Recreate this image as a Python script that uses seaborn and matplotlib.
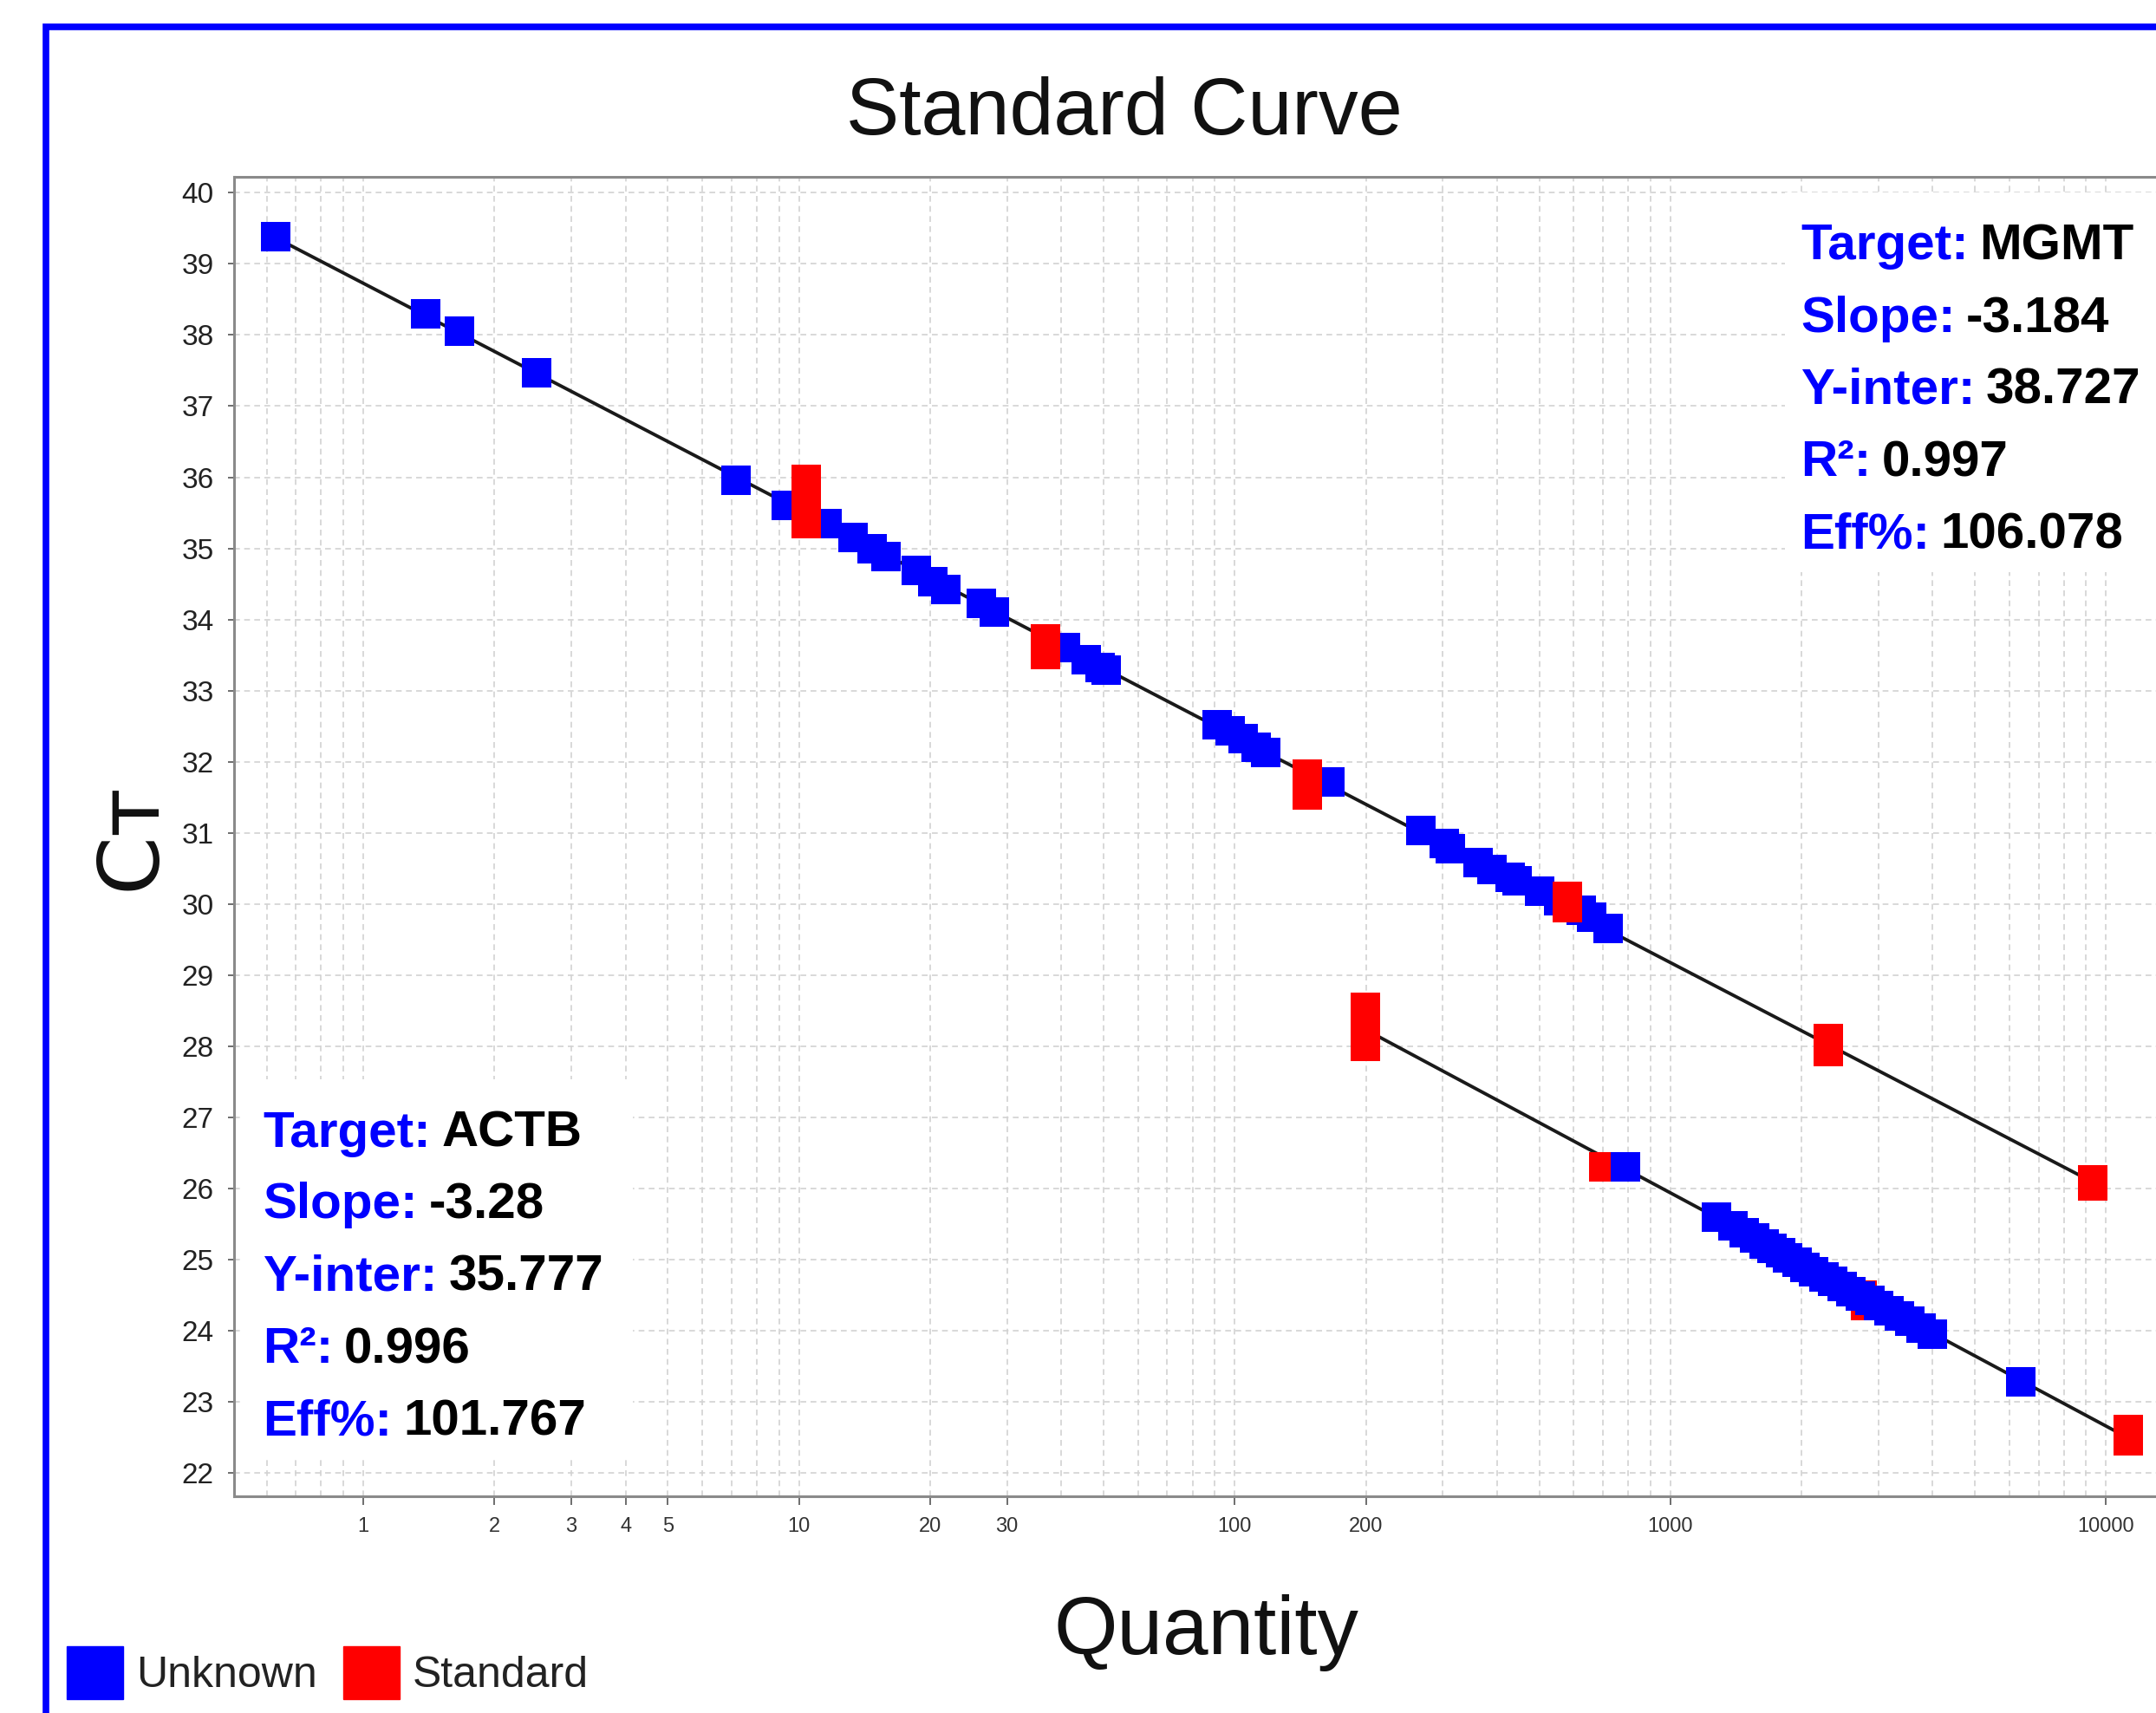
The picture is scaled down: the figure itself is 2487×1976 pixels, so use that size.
import matplotlib
matplotlib.use("Agg")
import matplotlib.pyplot as plt
import matplotlib.ticker as mticker
from matplotlib.patches import Rectangle, Patch
import numpy as np
import pandas as pd
import seaborn as sns

# MGMT target
mgmt_unk_qty = [0.628, 1.39, 1.66, 2.50, 7.15, 9.36, 11.6, 13.3, 14.7, 15.8, 18.6, 20.3, 21.7,
                26.2, 28.1, 40.9, 45.6, 49.0, 50.7, 91.0, 97.5, 104.6, 112.0, 117.8, 165.5,
                268, 302, 312, 362, 390, 428, 445, 502, 555, 625, 660, 721]
mgmt_unk_ct = [39.38, 38.30, 38.05, 37.47, 35.96, 35.60, 35.35, 35.15, 35.00, 34.89, 34.69, 34.53, 34.42,
               34.23, 34.11, 33.60, 33.44, 33.33, 33.29, 32.52, 32.43, 32.32, 32.20, 32.13, 31.71,
               31.03, 30.85, 30.78, 30.58, 30.49, 30.37, 30.32, 30.18, 30.05, 29.91, 29.81, 29.66]
mgmt_std_qty = [10.4, 10.4, 10.4, 36.8, 36.8, 146.6, 146.6, 580, 580, 2307, 2307, 9310, 9310]
mgmt_std_ct = [35.97, 35.66, 35.35, 33.73, 33.51, 31.82, 31.53, 30.10, 29.95, 28.11, 27.92, 26.12, 26.03]

# ACTB target
actb_std_qty = [199.5, 199.5, 199.5, 703, 2760, 2800, 11220, 11220]
actb_std_ct = [28.54, 28.27, 28.00, 26.30, 24.50, 24.35, 22.61, 22.45]
actb_unk_qty = [789, 1274, 1390, 1480, 1560, 1640, 1710, 1790, 1860, 1950, 2040, 2130, 2250,
                2360, 2480, 2600, 2730, 2870, 3010, 3180, 3350, 3550, 3760, 4000, 6380]
actb_unk_ct = [26.30, 25.59, 25.47, 25.38, 25.30, 25.22, 25.16, 25.09, 25.02, 24.96, 24.89, 24.83, 24.76,
               24.69, 24.62, 24.55, 24.49, 24.42, 24.35, 24.28, 24.21, 24.13, 24.04, 23.95, 23.28]

# regression results shown in the boxes
targets = ["MGMT", "ACTB"]
slopes = [-3.184, -3.28]
y_inters = [38.727, 35.777]
r2_values = [0.997, 0.996]
effs = [106.078, 101.767]

x_tick_values = [1, 2, 3, 4, 5, 10, 20, 30, 100, 200, 1000, 10000]

BLUE = "#0000ff"
RED = "#ff0000"

sns.set_theme(style="white")
plt.rcParams["font.family"] = ["Liberation Sans", "DejaVu Sans"]

# draw order: MGMT blue, MGMT red, ACTB red, ACTB blue
df = pd.concat([
    pd.DataFrame({"Quantity": mgmt_unk_qty, "Ct": mgmt_unk_ct, "Task": "Unknown", "Target": "MGMT"}),
    pd.DataFrame({"Quantity": mgmt_std_qty, "Ct": mgmt_std_ct, "Task": "Standard", "Target": "MGMT"}),
    pd.DataFrame({"Quantity": actb_std_qty, "Ct": actb_std_ct, "Task": "Standard", "Target": "ACTB"}),
    pd.DataFrame({"Quantity": actb_unk_qty, "Ct": actb_unk_ct, "Task": "Unknown", "Target": "ACTB"}),
], ignore_index=True)

W, H = 2487, 1976
fig = plt.figure(figsize=(W / 100, H / 100), dpi=100)
ax = fig.add_axes([0.1086, 0.1265, 0.9014, 0.7705])

# fitted lines from slope / intercept over each target's range
for tgt, sl, yi in zip(targets, slopes, y_inters):
    sub = df[df["Target"] == tgt]
    qx = np.array([sub["Quantity"].min(), sub["Quantity"].max()])
    sns.lineplot(x=qx, y=yi + sl * np.log10(qx), color="#1a1a1a", linewidth=2.8, ax=ax, zorder=2)

sns.scatterplot(data=df, x="Quantity", y="Ct", hue="Task", palette={"Unknown": BLUE, "Standard": RED},
                marker="s", s=600, linewidth=0, legend=False, ax=ax, zorder=3)

ax.set_xscale("log")
ax.set_xlim(0.505, 14590)
ax.set_ylim(21.67, 40.23)

ax.xaxis.set_major_locator(mticker.FixedLocator(x_tick_values))
ax.xaxis.set_major_formatter(mticker.FixedFormatter([str(v) for v in x_tick_values]))
ax.xaxis.set_minor_locator(mticker.LogLocator(base=10, subs=np.arange(1, 10), numticks=100))
ax.xaxis.set_minor_formatter(mticker.NullFormatter())
ax.yaxis.set_major_locator(mticker.MultipleLocator(1))

ax.grid(True, which="both", axis="x", color="#d2d2d2", linestyle=(0, (4, 3)), linewidth=1.2)
ax.grid(True, which="major", axis="y", color="#d2d2d2", linestyle=(0, (4, 3)), linewidth=1.2)
ax.set_axisbelow(True)

ax.tick_params(axis="x", which="major", length=7, width=1.2, color="#555555", pad=10,
               labelsize=17, labelcolor="#333333", bottom=True)
ax.tick_params(axis="x", which="minor", length=0)
ax.tick_params(axis="y", which="major", length=5, width=1.2, color="#555555", pad=12,
               labelsize=24, labelcolor="#222222", left=True)
for s in ax.spines.values():
    s.set_color("#8a8a8a")
    s.set_linewidth(2.2)

ax.set_xlabel("Quantity", fontsize=68, color="#111111", va="baseline")
ax.xaxis.set_label_coords(0.5, -0.1195)
ax.set_ylabel("C\u1d1b", fontsize=70, family="DejaVu Sans", color="#111111", va="baseline")
ax.yaxis.set_label_coords(-0.041, 0.50)

# white boxes behind the stats
ax.add_patch(Rectangle((0.798, 0.70), 0.25, 0.288, transform=ax.transAxes, facecolor="white",
                       edgecolor="none", zorder=1))
ax.add_patch(Rectangle((0.004, 0.030), 0.201, 0.286, transform=ax.transAxes, facecolor="white",
                       edgecolor="none", zorder=1))

box_x = [0.806, 0.0149]
box_baselines = [[0.937, 0.882, 0.828, 0.773, 0.718],
                 [0.2648, 0.2108, 0.1563, 0.1011, 0.0466]]
for i in range(2):
    rows = [("Target:", targets[i]), ("Slope:", f"{slopes[i]:g}"), ("Y-inter:", f"{y_inters[i]:.3f}"),
            ("R\u00b2:", f"{r2_values[i]:.3f}"), ("Eff%:", f"{effs[i]:.3f}")]
    for (lab, val), yb in zip(rows, box_baselines[i]):
        t = ax.text(box_x[i], yb, lab, transform=ax.transAxes, color=BLUE, fontsize=42,
                    fontweight="bold", va="baseline", ha="left", zorder=5)
        ax.annotate(val, xy=(1, 0), xycoords=t, xytext=(9, 0), textcoords="offset points",
                    color="black", fontsize=42, fontweight="bold", va="bottom", ha="left", zorder=5)

fig.text(0.5215, 0.9215, "Standard Curve", ha="center", va="baseline", fontsize=66, color="#111111")

fig.legend(handles=[Patch(color=BLUE, label="Unknown"), Patch(color=RED, label="Standard")],
           loc="lower left", bbox_to_anchor=(0.031, 0.008), ncol=2, frameon=False,
           fontsize=36, handlelength=1.3, handleheight=1.5, handletextpad=0.3,
           columnspacing=0.6, borderpad=0, borderaxespad=0, labelcolor="#222222")

# blue outer frame (runs off the right and bottom edges)
fig.add_artist(Rectangle((53 / W, -0.05), 1.2, 1 - 30.5 / H + 0.05, transform=fig.transFigure,
                         fill=False, edgecolor=BLUE, linewidth=5.5, clip_on=False))

fig.savefig("out.png", dpi=100)
